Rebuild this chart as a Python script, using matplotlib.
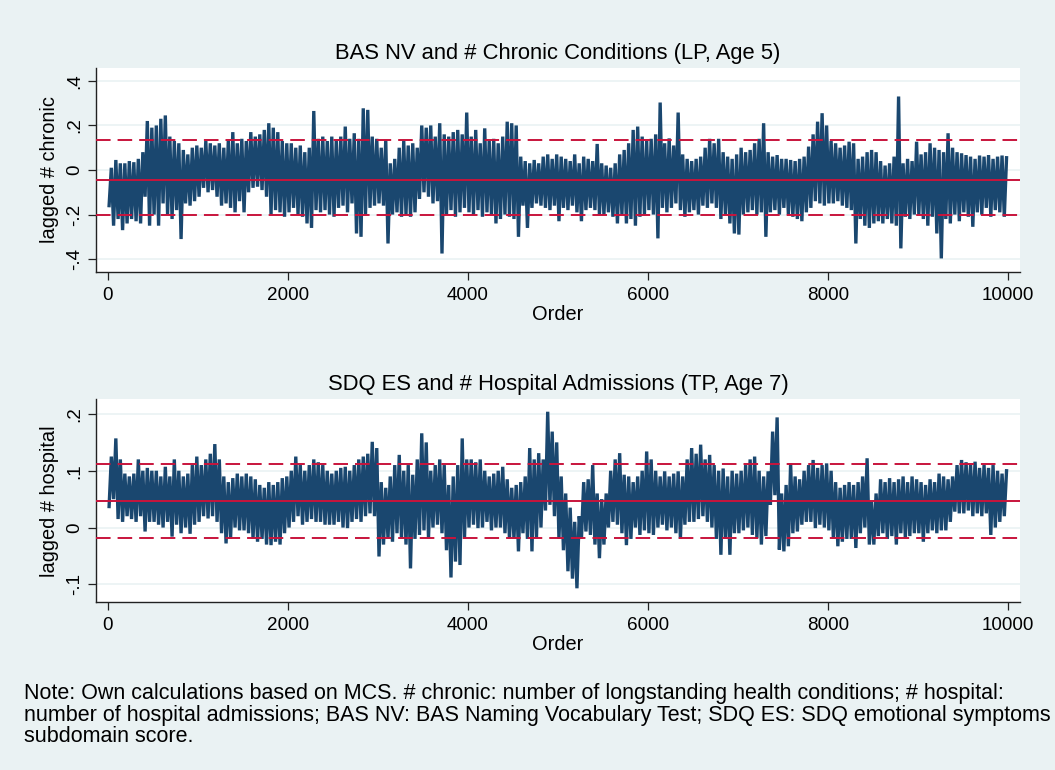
import numpy as np
import matplotlib
matplotlib.use("Agg")
import matplotlib.pyplot as plt

plt.rcParams['font.family'] = ['Liberation Sans', 'DejaVu Sans']
plt.rcParams['path.simplify'] = False

# ---------------- data ----------------
# Each panel: 200 blocks of 50 draws; low / high trace value within each block
BIN = 50

top_hi = [
    0.01, 0.045, 0.03, 0.03, 0.04, 0.035, 0.05, 0.08, 0.22, 0.19,
    0.20, 0.23, 0.245, 0.15, 0.13, 0.12, 0.09, 0.07, 0.10, 0.11,
    0.10, 0.13, 0.12, 0.11, 0.12, 0.10, 0.13, 0.17, 0.12, 0.14,
    0.13, 0.17, 0.15, 0.16, 0.18, 0.21, 0.19, 0.17, 0.13, 0.12,
    0.12, 0.10, 0.11, 0.08, 0.10, 0.265, 0.14, 0.15, 0.13, 0.15,
    0.13, 0.15, 0.195, 0.14, 0.165, 0.14, 0.277, 0.27, 0.15, 0.14,
    0.10, 0.135, 0.03, 0.05, 0.10, 0.13, 0.11, 0.12, 0.10, 0.20,
    0.19, 0.20, 0.15, 0.21, 0.16, 0.15, 0.17, 0.18, 0.16, 0.258,
    0.15, 0.18, 0.12, 0.187, 0.13, 0.14, 0.12, 0.15, 0.217, 0.21,
    0.20, 0.06, 0.04, 0.03, 0.045, 0.03, 0.06, 0.07, 0.05, 0.07,
    0.06, 0.05, 0.04, 0.07, 0.03, 0.06, 0.05, 0.04, 0.117, 0.03,
    0.02, 0.01, 0.03, 0.07, 0.09, 0.12, 0.18, 0.195, 0.15, 0.13,
    0.14, 0.16, 0.303, 0.12, 0.142, 0.11, 0.258, 0.07, 0.05, 0.04,
    0.05, 0.06, 0.10, 0.14, 0.12, 0.14, 0.08, 0.06, 0.05, 0.07,
    0.10, 0.08, 0.09, 0.12, 0.14, 0.21, 0.08, 0.06, 0.067, 0.05,
    0.05, 0.045, 0.04, 0.05, 0.06, 0.105, 0.16, 0.217, 0.255, 0.20,
    0.13, 0.12, 0.10, 0.11, 0.127, 0.12, 0.05, 0.06, 0.08, 0.09,
    0.08, 0.04, 0.02, 0.03, 0.06, 0.33, 0.03, 0.05, 0.04, 0.127,
    0.07, 0.08, 0.12, 0.10, 0.09, 0.08, 0.165, 0.10, 0.08, 0.075,
    0.067, 0.06, 0.05, 0.065, 0.06, 0.067, 0.05, 0.06, 0.065, 0.055,
]
top_lo = [
    -0.16, -0.25, -0.22, -0.27, -0.24, -0.22, -0.23, -0.24, -0.12, -0.25,
    -0.20, -0.25, -0.15, -0.20, -0.22, -0.18, -0.31, -0.15, -0.16, -0.14,
    -0.12, -0.08, -0.10, -0.09, -0.12, -0.16, -0.15, -0.17, -0.19, -0.14,
    -0.19, -0.10, -0.08, -0.075, -0.09, -0.12, -0.20, -0.18, -0.19, -0.21,
    -0.19, -0.17, -0.20, -0.21, -0.24, -0.26, -0.18, -0.19, -0.18, -0.20,
    -0.21, -0.17, -0.16, -0.19, -0.15, -0.285, -0.30, -0.20, -0.17, -0.16,
    -0.15, -0.16, -0.33, -0.20, -0.19, -0.21, -0.20, -0.21, -0.19, -0.13,
    -0.10, -0.12, -0.15, -0.14, -0.375, -0.20, -0.18, -0.21, -0.19, -0.17,
    -0.19, -0.20, -0.18, -0.21, -0.19, -0.20, -0.24, -0.22, -0.20, -0.21,
    -0.22, -0.30, -0.16, -0.26, -0.17, -0.15, -0.16, -0.17, -0.18, -0.16,
    -0.23, -0.17, -0.18, -0.16, -0.19, -0.23, -0.18, -0.17, -0.18, -0.20,
    -0.20, -0.19, -0.21, -0.24, -0.20, -0.24, -0.22, -0.25, -0.21, -0.20,
    -0.18, -0.20, -0.307, -0.17, -0.19, -0.17, -0.15, -0.18, -0.21, -0.19,
    -0.18, -0.20, -0.16, -0.17, -0.15, -0.17, -0.22, -0.20, -0.24, -0.285,
    -0.29, -0.20, -0.19, -0.18, -0.20, -0.19, -0.30, -0.19, -0.18, -0.20,
    -0.17, -0.20, -0.21, -0.22, -0.23, -0.19, -0.17, -0.14, -0.15, -0.16,
    -0.15, -0.15, -0.14, -0.16, -0.17, -0.18, -0.33, -0.22, -0.25, -0.26,
    -0.24, -0.23, -0.24, -0.22, -0.24, -0.25, -0.352, -0.21, -0.22, -0.20,
    -0.20, -0.22, -0.25, -0.21, -0.285, -0.397, -0.22, -0.24, -0.20, -0.23,
    -0.19, -0.21, -0.255, -0.19, -0.20, -0.17, -0.21, -0.18, -0.19, -0.21,
]
top_refs = [0.135, -0.045, -0.202]   # upper, mean, lower

bot_hi = [
    0.125, 0.157, 0.12, 0.095, 0.09, 0.095, 0.12, 0.10, 0.105, 0.10,
    0.10, 0.09, 0.107, 0.09, 0.12, 0.10, 0.09, 0.095, 0.11, 0.125,
    0.11, 0.12, 0.13, 0.147, 0.12, 0.09, 0.08, 0.087, 0.095, 0.09,
    0.095, 0.09, 0.085, 0.075, 0.07, 0.08, 0.075, 0.08, 0.087, 0.09,
    0.10, 0.125, 0.11, 0.10, 0.11, 0.12, 0.115, 0.11, 0.10, 0.095,
    0.10, 0.105, 0.107, 0.10, 0.11, 0.12, 0.125, 0.13, 0.151, 0.14,
    0.08, 0.07, 0.09, 0.11, 0.128, 0.10, 0.11, 0.093, 0.12, 0.166,
    0.15, 0.10, 0.11, 0.12, 0.11, 0.075, 0.09, 0.11, 0.157, 0.12,
    0.12, 0.115, 0.12, 0.10, 0.09, 0.095, 0.10, 0.107, 0.085, 0.07,
    0.075, 0.08, 0.09, 0.14, 0.12, 0.131, 0.12, 0.204, 0.169, 0.15,
    0.09, 0.06, 0.035, 0.01, 0.02, 0.08, 0.085, 0.11, 0.06, 0.05,
    0.06, 0.10, 0.12, 0.131, 0.093, 0.09, 0.08, 0.09, 0.10, 0.134,
    0.12, 0.10, 0.09, 0.099, 0.09, 0.095, 0.099, 0.09, 0.12, 0.14,
    0.13, 0.146, 0.12, 0.128, 0.11, 0.10, 0.104, 0.09, 0.10, 0.095,
    0.10, 0.11, 0.12, 0.125, 0.10, 0.09, 0.099, 0.169, 0.194, 0.06,
    0.075, 0.113, 0.09, 0.085, 0.10, 0.11, 0.119, 0.105, 0.11, 0.113,
    0.10, 0.08, 0.07, 0.075, 0.08, 0.075, 0.08, 0.09, 0.122, 0.045,
    0.06, 0.085, 0.08, 0.087, 0.08, 0.085, 0.09, 0.08, 0.09, 0.085,
    0.08, 0.075, 0.085, 0.08, 0.095, 0.09, 0.085, 0.09, 0.11, 0.119,
    0.115, 0.11, 0.116, 0.105, 0.11, 0.105, 0.11, 0.10, 0.095, 0.10,
]
bot_lo = [
    0.037, 0.05, 0.015, 0.01, 0.02, 0.015, 0.01, 0.02, -0.007, 0.01,
    0.01, 0.005, 0.0, 0.01, -0.016, 0.005, -0.01, 0.0, -0.011, 0.005,
    0.01, 0.02, 0.016, 0.02, 0.01, -0.01, -0.028, -0.02, 0.0, -0.005,
    -0.005, -0.01, -0.02, -0.025, -0.02, -0.03, -0.031, -0.025, -0.03, -0.01,
    0.0, 0.01, 0.02, 0.005, 0.01, 0.015, 0.01, 0.01, 0.005, 0.005,
    0.005, 0.01, 0.0, -0.001, 0.01, 0.015, 0.01, 0.02, 0.025, 0.02,
    -0.051, -0.03, -0.02, -0.025, -0.01, -0.02, -0.03, -0.072, -0.02, -0.013,
    -0.005, -0.019, 0.0, 0.005, -0.01, -0.04, -0.088, -0.06, -0.066, -0.02,
    0.0, 0.005, -0.001, 0.0, 0.01, -0.005, 0.0, 0.0, -0.01, -0.02,
    -0.02, -0.042, -0.01, -0.02, -0.042, -0.019, 0.0, 0.03, 0.04, 0.02,
    -0.02, -0.04, -0.077, -0.09, -0.107, -0.02, -0.007, -0.013, -0.03, -0.054,
    -0.03, 0.0, 0.01, 0.005, -0.01, -0.031, -0.02, 0.0, -0.013, -0.005,
    -0.01, -0.013, 0.0, 0.005, -0.005, 0.0, -0.01, -0.02, 0.005, 0.01,
    0.01, 0.015, 0.02, 0.01, 0.0, -0.02, -0.048, -0.02, -0.048, -0.01,
    -0.01, -0.005, 0.0, -0.013, -0.019, -0.03, -0.015, 0.04, 0.057, -0.039,
    -0.042, -0.033, -0.01, -0.007, 0.005, 0.01, 0.01, -0.001, 0.005, 0.0,
    -0.005, -0.02, -0.033, -0.025, -0.02, -0.02, -0.036, -0.01, 0.0, -0.03,
    -0.03, -0.015, -0.01, -0.02, -0.015, -0.03, -0.01, -0.019, -0.015, -0.01,
    -0.01, -0.025, -0.01, -0.005, -0.01, -0.005, -0.005, 0.01, 0.028, 0.025,
    0.025, 0.03, 0.02, 0.025, 0.02, 0.025, -0.013, 0.0, 0.01, 0.02,
]
bot_refs = [0.112, 0.047, -0.0176]

titles = ["BAS NV and # Chronic Conditions (LP, Age 5)",
          "SDQ ES and # Hospital Admissions (TP, Age 7)"]
ylabels = ["lagged # chronic", "lagged # hospital"]
xlabel = "Order"
xticks = [0, 2000, 4000, 6000, 8000, 10000]
top_yticks = [0.4, 0.2, 0.0, -0.2, -0.4]
top_yticklabels = [".4", ".2", "0", "-.2", "-.4"]
bot_yticks = [0.2, 0.1, 0.0, -0.1]
bot_yticklabels = [".2", ".1", "0", "-.1"]
note = ("Note: Own calculations based on MCS. # chronic: number of longstanding health conditions; # hospital:\n"
        "number of hospital admissions; BAS NV: BAS Naming Vocabulary Test; SDQ ES: SDQ emotional symptoms\n"
        "subdomain score.")

# ---------------- styling ----------------
BG = '#EAF2F3'
NAVY = '#1A476F'
RED = '#C8143C'
W, H = 1055, 770
FS_TICK = 13.6
FS_LABEL = 14.4
FS_TITLE = 15.8
FS_NOTE = 15.5

fig = plt.figure(figsize=(W / 100, H / 100), dpi=100, facecolor=BG)


def px_axes(left, top, right, bottom):
    return fig.add_axes([left / W, 1 - bottom / H, (right - left) / W, (bottom - top) / H])


def trace(lo, hi):
    lo = np.asarray(lo)
    hi = np.asarray(hi)
    vals = np.column_stack([lo, hi]).ravel()
    xs = np.arange(vals.size) * (BIN / 2) + BIN / 4
    return xs, vals


panels = [
    dict(box=(96, 68, 1020, 272), lo=top_lo, hi=top_hi, refs=top_refs,
         ylim=(-0.458, 0.458), yt=top_yticks, ytl=top_yticklabels),
    dict(box=(96, 399.3, 1020, 602.3), lo=bot_lo, hi=bot_hi, refs=bot_refs,
         ylim=(-0.1317, 0.2259), yt=bot_yticks, ytl=bot_yticklabels),
]

for i, p in enumerate(panels):
    ax = px_axes(*p['box'])
    ax.set_facecolor('white')
    xs, vals = trace(p['lo'], p['hi'])
    ln, = ax.plot(xs, vals, color=NAVY, lw=2.4, solid_joinstyle='miter', zorder=3)
    ln.set_snap(False)
    up, mid, low = p['refs']
    ax.axhline(up, color=RED, lw=1.4, dashes=(7.5, 3.6), zorder=4)
    ax.axhline(mid, color=RED, lw=1.4, zorder=4)
    ax.axhline(low, color=RED, lw=1.4, dashes=(7.5, 3.6), zorder=4)

    ax.set_xlim(-133, 10137)
    ax.set_ylim(*p['ylim'])
    ax.set_xticks(xticks)
    ax.set_xticklabels([str(t) for t in xticks])
    ax.set_yticks(p['yt'])
    ax.set_yticklabels(p['ytl'])
    ax.grid(axis='y', color=BG, lw=1.2, zorder=1)
    ax.set_axisbelow(True)
    for s in ('top', 'right'):
        ax.spines[s].set_visible(False)
    for s in ('left', 'bottom'):
        ax.spines[s].set_color('#222222')
        ax.spines[s].set_linewidth(1.0)
    ax.tick_params(axis='both', direction='out', length=6, width=0.9, color='#222222',
                   labelsize=FS_TICK, labelcolor='black')
    ax.tick_params(axis='x', pad=4.5)
    ax.tick_params(axis='y', pad=3.5, labelrotation=90)
    for lab in ax.get_yticklabels():
        lab.set_va('center')
        lab.set_ha('right')

    ax.set_title(titles[i], fontsize=FS_TITLE, pad=6.8, color='black')
    ax.set_xlabel(xlabel, fontsize=FS_LABEL)
    ax.xaxis.set_label_coords(0.5, -42 / (p['box'][3] - p['box'][1]))
    ax.xaxis.label.set_va('center')
    ax.set_ylabel(ylabels[i], fontsize=FS_LABEL)
    ax.yaxis.set_label_coords((49.5 - 96) / 924, 0.5)
    ax.yaxis.label.set_va('center')

# va='baseline' on multi-line text aligns the last line's baseline
fig.text(23.5 / W, 1 - 741.7 / H, note, fontsize=FS_NOTE, ha='left', va='baseline',
         linespacing=1.01, color='black')

fig.savefig('out.png', dpi=100, facecolor=BG)
